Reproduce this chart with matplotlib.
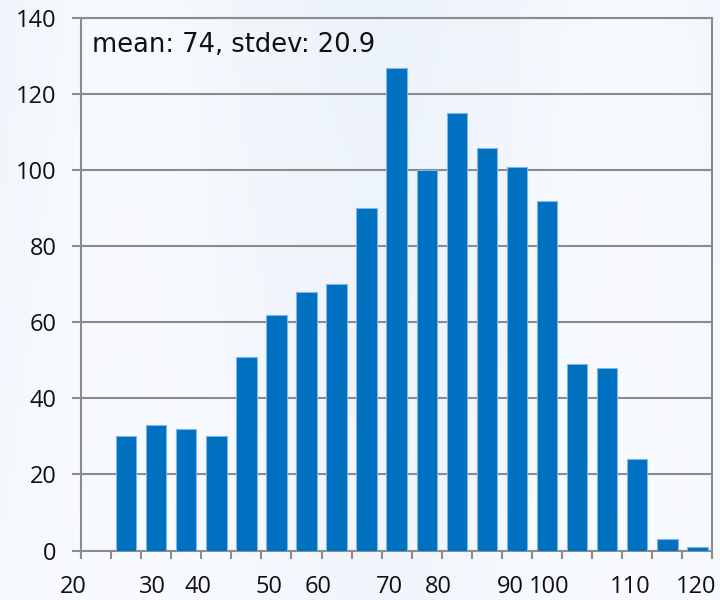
import numpy as np
import matplotlib
matplotlib.use("Agg")
import matplotlib.pyplot as plt
from matplotlib.transforms import blended_transform_factory

# ---- data ----
counts = [0, 30, 33, 32, 30, 51, 62, 68, 70, 90, 127, 100, 115, 106, 101, 92, 49, 48, 24, 3, 1]
x_labels = ["20", "30", "40", "50", "60", "70", "80", "90", "100", "110", "120"]
x_label_pos = [-0.27, 2.38, 3.90, 6.26, 7.89, 10.27, 11.89, 14.27, 15.58, 18.25, 20.45]
y_ticks = [0, 20, 40, 60, 80, 100, 120, 140]
annotation = "mean: 74, stdev: 20.9"

plt.rcParams['font.family'] = ['Open Sans', 'DejaVu Sans']

fig = plt.figure(figsize=(7.2, 6.0), dpi=100)
fig.patch.set_facecolor('#eef4fb')

# background gradient
bg = fig.add_axes([0, 0, 1, 1], zorder=-10)
xs = np.linspace(0, 1, 400)
ys = np.linspace(0, 1, 300)
X, Y = np.meshgrid(xs, ys)
val = 0.5 + 0.25 * np.sin(X * 9.0) * (0.6 + 0.4 * Y) + 0.2 * (1 - Y)
val = np.clip(val, 0, 1)
c1 = np.array([0.91, 0.94, 0.98])
c2 = np.array([0.985, 0.99, 1.0])
img = c1[None, None, :] * (1 - val[..., None]) + c2[None, None, :] * val[..., None]
bg.imshow(img, aspect='auto', extent=[0, 1, 0, 1], origin='lower')
bg.axis('off')

ax = fig.add_axes([0.1125, 0.0825, 0.877, 0.887])
ax.set_facecolor((1, 1, 1, 0.0))

n = len(counts)
centers = np.arange(n) + 0.5
ax.bar(centers, counts, width=0.68, color='#0070c0', edgecolor='#7fb6e6',
       linewidth=0.8, zorder=3)

ax.set_xlim(0, n)
ax.set_ylim(0, 140)
ax.set_yticks(y_ticks)
ax.set_yticklabels([str(v) for v in y_ticks], fontsize=17, color='#111111')
ax.set_xticks(np.arange(n + 1))
ax.set_xticklabels([])
ax.tick_params(axis='y', length=6.5, width=1.5, color='#8c8c8c', pad=11)
ax.tick_params(axis='x', length=6, width=1.5, color='#8c8c8c', direction='out')

ax.yaxis.grid(True, color='#8c8c8c', linewidth=1.5, zorder=1)
ax.set_axisbelow(True)
for s in ax.spines.values():
    s.set_color('#8c8c8c')
    s.set_linewidth(1.5)

trans = blended_transform_factory(ax.transData, ax.transAxes)
for lab, pos in zip(x_labels, x_label_pos):
    ax.text(pos, -0.069, lab, transform=trans, ha='center', va='center',
            fontsize=17, color='#111111', clip_on=False)

ax.text(0.017, 0.975, annotation, transform=ax.transAxes, ha='left', va='top',
        fontsize=18.5, color='#111111', family=['DejaVu Sans'])

fig.savefig('out.png', dpi=100)
